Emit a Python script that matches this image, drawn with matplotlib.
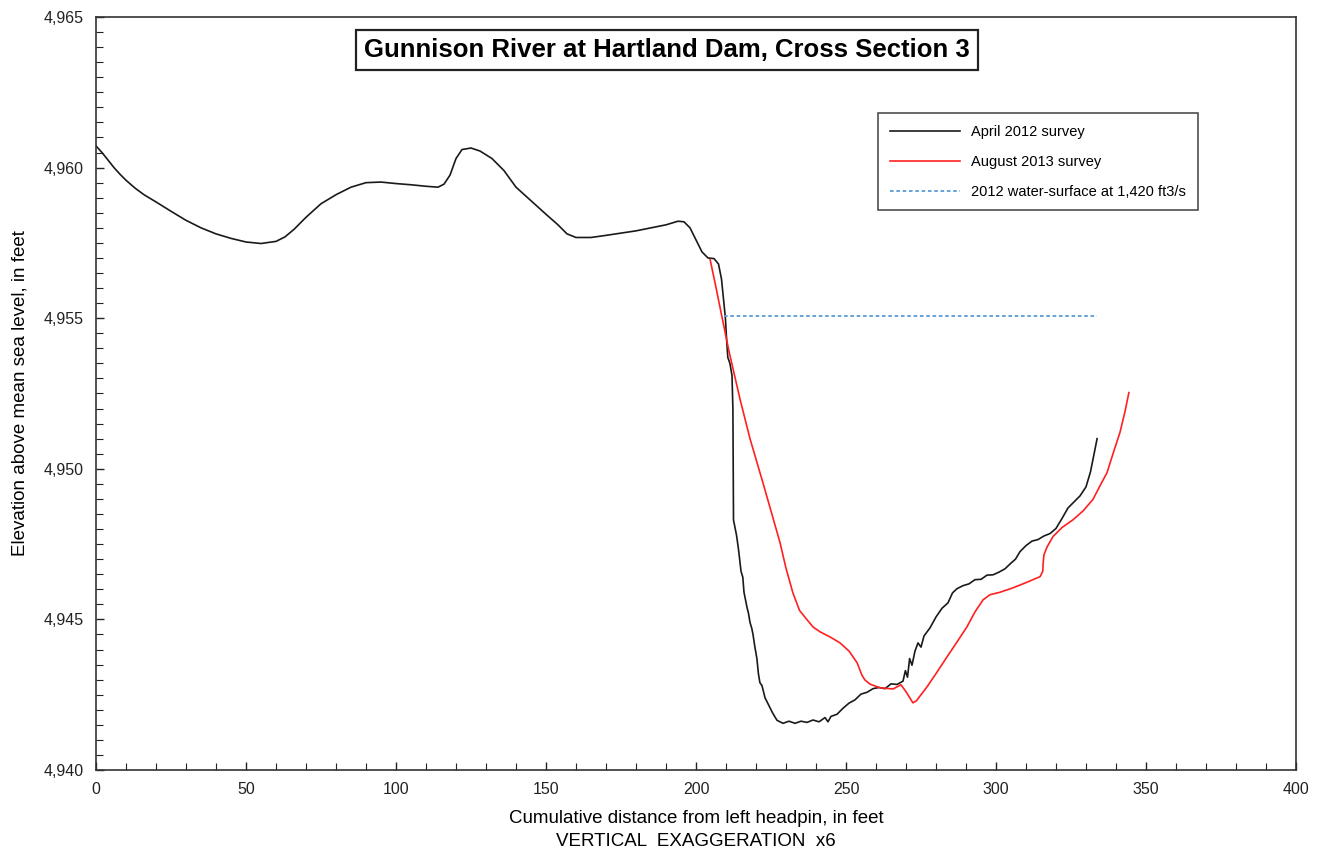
import matplotlib
matplotlib.use("Agg")
import matplotlib.pyplot as plt
from matplotlib.ticker import MultipleLocator, FuncFormatter

# April 2012 survey
april_x = [0, 2, 4, 6, 8, 10, 13, 16, 20, 25, 30, 35, 40, 45, 50, 55, 60, 63, 66, 70, 75, 80, 85,
           90, 95, 100, 105, 110, 114, 116, 118, 120, 122, 125, 128, 132, 136, 140, 145,
           150, 154, 157, 160, 165, 170, 180, 190, 194, 196, 198, 200, 202, 204, 206,
           207.5, 208.5, 209.3, 209.8, 210.2, 210.6, 211.3, 212.0, 212.3, 212.4, 212.5,
           213.5, 214.2, 215, 215.6, 216, 217, 217.5, 218, 218.6, 219, 219.6, 220.3, 220.8,
           221.3, 222, 223, 224, 225.5, 227, 229, 231, 233, 235, 237, 239, 241, 243, 244,
           245, 247, 249, 251, 253, 255, 257, 259, 261, 263, 265, 267, 269, 269.8, 270.5,
           271.2, 272, 273, 274, 275, 276, 278, 280, 282, 284, 285.5, 287, 289, 291, 293,
           295, 297, 299, 301, 303, 305, 306.5, 308, 310, 312, 314, 316, 318, 320, 322,
           324, 326, 328, 330, 331.5, 332.5, 333.7]
april_y = [4960.72, 4960.50, 4960.25, 4960.00, 4959.78, 4959.58, 4959.32, 4959.10,
           4958.86, 4958.55, 4958.25, 4958.00, 4957.80, 4957.65, 4957.53, 4957.48,
           4957.55, 4957.70, 4957.95,
           4958.35, 4958.80, 4959.10, 4959.35, 4959.50, 4959.52, 4959.47, 4959.43,
           4959.38, 4959.35, 4959.45, 4959.75, 4960.30, 4960.60, 4960.65, 4960.55,
           4960.30, 4959.90, 4959.35, 4958.90, 4958.45, 4958.10, 4957.80, 4957.68,
           4957.68, 4957.75, 4957.90, 4958.10, 4958.22, 4958.20, 4958.00, 4957.60,
           4957.20, 4957.00, 4956.98, 4956.80, 4956.30, 4955.50, 4955.00, 4954.30,
           4953.70, 4953.50, 4953.10, 4952.00, 4950.00, 4948.30, 4947.80, 4947.30,
           4946.60, 4946.40, 4945.90, 4945.40, 4945.20, 4944.90, 4944.70, 4944.50,
           4944.10, 4943.70, 4943.20, 4942.90, 4942.80, 4942.40, 4942.20, 4941.90,
           4941.65, 4941.55, 4941.62, 4941.55, 4941.62, 4941.58, 4941.66, 4941.60,
           4941.74, 4941.60, 4941.78, 4941.85, 4942.05, 4942.22, 4942.33, 4942.52,
           4942.58, 4942.70, 4942.74, 4942.70, 4942.86, 4942.84, 4942.95, 4943.30,
           4943.08, 4943.70, 4943.48, 4943.95, 4944.22, 4944.08, 4944.45, 4944.72,
           4945.08, 4945.37, 4945.55, 4945.88, 4946.02, 4946.12, 4946.18, 4946.32,
           4946.33, 4946.47, 4946.48, 4946.57, 4946.68, 4946.87, 4947.00, 4947.25,
           4947.45, 4947.60, 4947.65, 4947.77, 4947.85, 4948.02, 4948.35, 4948.70,
           4948.90, 4949.10, 4949.40, 4949.90, 4950.40, 4951.00]

# August 2013 survey
aug_x = [204.7, 206.5, 208.6, 211, 214.7, 218, 222.3, 225, 228, 230, 232.3, 234.5, 237,
         239, 241.3, 245, 248, 251, 253.7, 255.3, 256.3, 258, 261.3, 265.7, 268.3, 270,
         272.3, 273.5, 275, 277, 280, 283.7, 287, 290.3, 293, 295.7, 298, 301.3, 305.7,
         310, 314.7, 315.6, 315.7, 316, 317, 319, 322, 325.7, 329, 332.3, 335, 337, 339,
         341.3, 343, 344.3]
aug_y = [4956.95, 4956.10, 4955.07, 4953.90, 4952.30, 4951.00, 4949.54, 4948.60,
         4947.55, 4946.70, 4945.88, 4945.30, 4944.99, 4944.75, 4944.59, 4944.40,
         4944.22, 4943.95, 4943.56, 4943.15, 4942.99, 4942.85, 4942.73, 4942.69,
         4942.83, 4942.60, 4942.23, 4942.30, 4942.50, 4942.76, 4943.20, 4943.76,
         4944.25, 4944.75, 4945.25, 4945.65, 4945.82, 4945.90, 4946.05, 4946.22,
         4946.42, 4946.60, 4946.85, 4947.15, 4947.40, 4947.75, 4948.05, 4948.31,
         4948.60, 4948.98, 4949.50, 4949.87, 4950.50, 4951.20, 4951.90, 4952.53]

# 2012 water surface at 1,420 ft3/s
ws_x = [209.3, 333.7]
ws_y = [4955.06, 4955.06]

title = "Gunnison River at Hartland Dam, Cross Section 3"
labels = ["April 2012 survey", "August 2013 survey", "2012 water-surface at 1,420 ft3/s"]

plt.rcParams['font.family'] = ['Liberation Sans', 'DejaVu Sans']

fig = plt.figure(figsize=(13.17, 8.59), dpi=100)
ax = fig.add_axes([96/1317, 1-770/859, 1200/1317, 753/859])

ax.plot(april_x, april_y, color='#1a1a1a', lw=1.2, label=labels[0])
ax.plot(aug_x, aug_y, color='#ff2020', lw=1.2, label=labels[1])
ax.plot(ws_x, ws_y, color='#5b9bd5', lw=1.3, ls=(0, (2, 1.5)), label=labels[2])

ax.set_xlim(0, 400)
ax.set_ylim(4940, 4965)
ax.xaxis.set_major_locator(MultipleLocator(50))
ax.xaxis.set_minor_locator(MultipleLocator(10))
ax.yaxis.set_major_locator(MultipleLocator(5))
ax.yaxis.set_minor_locator(MultipleLocator(0.5))
ax.yaxis.set_major_formatter(FuncFormatter(lambda v, p: f"{int(round(v)):,}"))
ax.tick_params(which='both', direction='in', top=False, right=False,
               labelsize=11.5, colors='#222222')
ax.tick_params(which='major', length=6, width=1)
ax.tick_params(which='minor', length=5, width=0.8)
ax.tick_params(axis='x', pad=9)
ax.tick_params(axis='y', pad=9)
for s in ax.spines.values():
    s.set_color('#333333')
    s.set_linewidth(1.2)

ax.set_xlabel("Cumulative distance from left headpin, in feet\nVERTICAL  EXAGGERATION  x6",
              fontsize=13.5, linespacing=1.45, labelpad=9)
ax.set_ylabel("Elevation above mean sea level, in feet", fontsize=13.5, labelpad=11)

ax.text(667/1317, 1-50/859, title, transform=fig.transFigure, ha='center', va='center',
        fontsize=18.5, fontweight='bold',
        bbox=dict(boxstyle='square,pad=0.3', fc='white', ec='#222222', lw=1.6))

leg = ax.legend(loc='upper left', bbox_to_anchor=((878-96)/1200, (770-113)/753),
                borderaxespad=0, frameon=True, fancybox=False, edgecolor='#222222',
                handlelength=4.8, labelspacing=1.1, borderpad=0.8, handletextpad=0.8,
                prop={'size': 10.5})
leg.get_frame().set_linewidth(1.2)

fig.savefig("out.png", dpi=100)
